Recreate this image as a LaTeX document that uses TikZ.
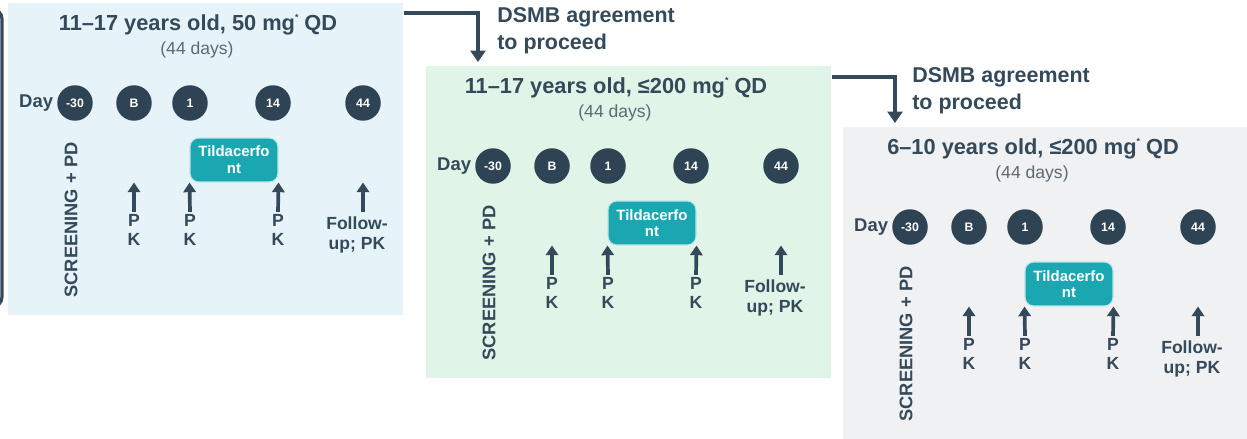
\documentclass[tikz,border=0pt]{standalone}
\usepackage{fontspec}
\setmainfont{Liberation Sans}
\usetikzlibrary{arrows.meta,positioning}

\definecolor{ink}{HTML}{34495A}
\definecolor{dotfill}{HTML}{2E4353}
\definecolor{drugteal}{HTML}{1BA7B1}
\definecolor{subgrey}{HTML}{5E6A72}
\definecolor{bgblue}{HTML}{E6F4F9}
\definecolor{bggreen}{HTML}{E1F4E8}
\definecolor{bggrey}{HTML}{F0F1F2}

\tikzset{
  panel/.style={fill=#1, draw=none, anchor=north west, inner sep=0pt, minimum height=6.24cm},
  title/.style={font=\bfseries\fontsize{12.4}{14}\selectfont, text=ink, inner sep=0pt},
  subtitle/.style={font=\fontsize{10}{12}\selectfont, text=subgrey, inner sep=0pt},
  daylabel/.style={font=\bfseries\fontsize{10.5}{12}\selectfont, text=ink, inner sep=0pt},
  daydot/.style={circle, fill=dotfill, text=white, minimum size=0.71cm, inner sep=0pt,
    font=\bfseries\fontsize{7}{8}\selectfont},
  drug/.style={rounded corners=5pt, fill=drugteal, draw=white!70!drugteal, line width=0.6pt,
    text=white, align=center, minimum width=1.76cm, minimum height=0.88cm, inner sep=0pt,
    font=\bfseries\fontsize{8.5}{9.5}\selectfont},
  screen/.style={font=\bfseries\fontsize{10.4}{12}\selectfont, text=ink, inner sep=0pt, rotate=90},
  pklabel/.style={font=\bfseries\fontsize{10}{11.3}\selectfont, text=ink, align=center, inner sep=1pt},
  pkarrow/.style={-{Triangle[length=5.5pt,width=7pt]}, line width=2.1pt, draw=ink},
  flow/.style={-{Triangle[length=6.5pt,width=8.5pt]}, line width=2.2pt, draw=ink},
  dsmb/.style={font=\bfseries\fontsize{12.2}{15.5}\selectfont, text=ink, align=left, inner sep=0pt, anchor=west}
}

\begin{document}
\begin{tikzpicture}[x=0.02cm, y=-0.02cm]
  \useasboundingbox (0,0) rectangle (1247,439);

  % bracket on the left edge
  \draw[ink, line width=1.8pt, rounded corners=0.2cm] (-40,9) rectangle (2,307);

  % the three dosing panels
  \foreach \pn/\px/\py/\pw/\pcol/\ptitle in {
      a/8/3/395/bgblue/{11–17 years old, 50 mg\raisebox{0.9ex}{\fontsize{5}{5}\selectfont*} QD},
      b/426/66/405/bggreen/{11–17 years old, ≤200 mg\raisebox{0.9ex}{\fontsize{5}{5}\selectfont*} QD},
      c/843/127/404/bggrey/{6–10 years old, ≤200 mg\raisebox{0.9ex}{\fontsize{5}{5}\selectfont*} QD}} {
    \begin{scope}[shift={(\px,\py)}]
      \node[panel=\pcol, minimum width=\pw*0.02cm] (\pn-box) at (0,0) {};
      \node[title] (\pn-title) at (190,22) {\ptitle};
      \node[subtitle] (\pn-sub) at (189,47) {(44 days)};
      \foreach \cn/\cx/\cl in {m30/67/-30, b/126/B, d1/182/1, d14/265/14, d44/355/44}
        \node[daydot] (\pn-\cn) at (\cx,100) {\cl};
      \node[daylabel, left=2pt of \pn-m30] (\pn-day) {Day};
      \node[screen] (\pn-scr) at (63,217) {SCREENING + PD};
      \node[drug] (\pn-drug) at (226,157) {Tildacerfo\\nt};
      \node[pklabel] (\pn-pk1) at (126,227) {P\\K};
      \node[pklabel] (\pn-pk2) at (182,227) {P\\K};
      \node[pklabel] (\pn-pk3) at (270,227) {P\\K};
      \node[pklabel] (\pn-fu) at (349,232) {Follow-\\up; PK};
      \draw[pkarrow] (\pn-pk1.north) -- (\pn-pk1.north |- \pn-drug.south);
      \draw[pkarrow] (\pn-pk2.north) -- (\pn-drug.south west);
      \draw[pkarrow] (\pn-pk3.north) -- (\pn-drug.south east);
      \draw[pkarrow] (\pn-d44 |- \pn-pk1.north) -- (\pn-d44 |- \pn-drug.south);
    \end{scope}
  }

  % DSMB steps between panels
  \draw[flow] ([yshift=-0.2cm]a-box.north east) -| ([xshift=1.04cm,yshift=0.08cm]b-box.north west);
  \node[dsmb] (dsmb-ab) at ([xshift=1.42cm,yshift=0.7cm]b-box.north west) {DSMB agreement\\to proceed};
  \draw[flow] ([yshift=-0.22cm]b-box.north east) -| ([xshift=1.04cm,yshift=0.08cm]c-box.north west);
  \node[dsmb] (dsmb-bc) at ([xshift=1.38cm,yshift=0.72cm]c-box.north west) {DSMB agreement\\to proceed};
\end{tikzpicture}
\end{document}
